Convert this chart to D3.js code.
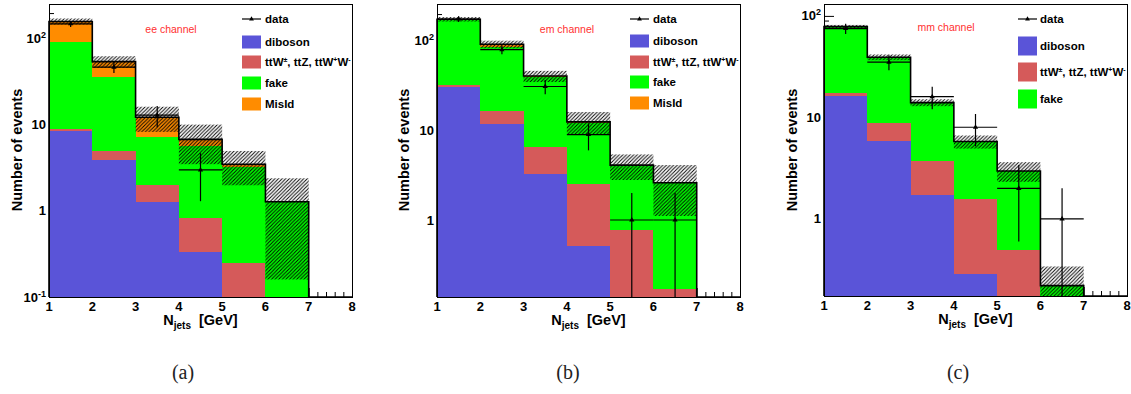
<!DOCTYPE html>
<html><head><meta charset="utf-8">
<script src="https://cdn.jsdelivr.net/npm/d3@7"></script>
<style>
html,body{margin:0;padding:0;background:#fff;}
svg{display:block;}
text{font-family:"Liberation Sans",Arial,sans-serif;}
text.caption{font-family:"Liberation Serif","DejaVu Serif",serif;}
</style></head>
<body>
<svg id="chart" width="1131" height="394"></svg>
<script>
// ---------- data ----------
const binEdges = [1, 2, 3, 4, 5, 6, 7, 8];
const xTickLabels = ["1", "2", "3", "4", "5", "6", "7", "8"];
const seriesNames = ["diboson", "ttV", "fake", "misid"];

// ee channel
const eeDiboson = [8.4, 3.9, 1.26, 0.33, 0, 0, 0];
const eeTTV     = [0.5, 1.1, 0.74, 0.49, 0.25, 0, 0];
const eeFake    = [84, 30.9, 5.3, 4.93, 3.02, 1.28, 0];
const eeMisId   = [67, 18.6, 5.0, 1.05, 0.22, 0, 0];
const eeUnc     = [13, 8.5, 4, 3.3, 1.5, 1.12, 0];
const eeData    = [150, 47, 13, 3, 0, 0, 0];
const eeDataErr = [12.2, 6.9, 3.6, 1.7, 0, 0, 0];

// em channel
const emDiboson = [30.4, 11.8, 3.27, 0.51, 0, 0, 0];
const emTTV     = [1.8, 4.7, 3.32, 2.02, 0.77, 0.17, 0];
const emFake    = [139.8, 69.9, 32.7, 9.47, 3.27, 2.44, 0];
const emMisId   = [3, 5.4, 1.3, 0.5, 0.06, 0, 0];
const emUnc     = [10, 9, 5.8, 3.6, 1.3, 1.5, 0];
const emData    = [176, 80, 31, 9, 1, 1, 0];
const emDataErr = [13.3, 8.9, 5.6, 3, 1, 1, 0];

// mm channel
const mmDiboson = [16.3, 5.87, 1.72, 0.285, 0, 0, 0];
const mmTTV     = [1.0, 2.9, 2.01, 1.275, 0.495, 0, 0];
const mmFake    = [61.2, 30.4, 10.27, 4.22, 2.475, 0.22, 0];
const mmMisId   = [0, 0, 0, 0, 0, 0, 0];
const mmUnc     = [3, 2.5, 1.1, 0.85, 0.65, 0.12, 0];
const mmData    = [75, 35, 16, 8, 2, 1, 0];
const mmDataErr = [8.7, 5.9, 4, 2.8, 1.4, 1, 0];

const channelLabels = ["ee channel", "em channel", "mm channel"];
const captions = ["(a)", "(b)", "(c)"];

// ---------- styling / layout ----------
const colors = {diboson: "#5a54d8", ttV: "#d55a5a", fake: "#00ff00", misid: "#ff8c00"};
const svg = d3.select("#chart");

const defs = svg.append("defs");
defs.append("pattern").attr("id", "hatch").attr("patternUnits", "userSpaceOnUse")
  .attr("width", 3.6).attr("height", 3.6)
  .append("path").attr("d", "M-0.9,0.9 l1.8,-1.8 M0,3.6 l3.6,-3.6 M2.7,4.5 l1.8,-1.8")
  .attr("stroke", "#000").attr("stroke-width", 0.95).attr("fill", "none");

const panels = [
  {left: 49, right: 352, top: 4, bottom: 297, ymin: 0.1, ymax: 255,
   dib: eeDiboson, ttv: eeTTV, fake: eeFake, mis: eeMisId, unc: eeUnc, data: eeData, err: eeDataErr,
   yTicks: [0.1, 1, 10, 100], label: channelLabels[0], labelX: 171, labelY: 33,
   legX: 242, legTextX: 265, legRows: [19, 42, 62, 83, 104], boxH: 13, legMis: true,
   ytitleX: 21.5, caption: captions[0], capX: 183},
  {left: 437, right: 740, top: 4, bottom: 297, ymin: 0.138, ymax: 259,
   dib: emDiboson, ttv: emTTV, fake: emFake, mis: emMisId, unc: emUnc, data: emData, err: emDataErr,
   yTicks: [1, 10, 100], label: channelLabels[1], labelX: 567, labelY: 33,
   legX: 630, legTextX: 653, legRows: [19, 41, 62, 82, 103], boxH: 13, legMis: true,
   ytitleX: 409, caption: captions[1], capX: 568},
  {left: 824, right: 1127, top: 4, bottom: 296, ymin: 0.174, ymax: 131,
   dib: mmDiboson, ttv: mmTTV, fake: mmFake, mis: mmMisId, unc: mmUnc, data: mmData, err: mmDataErr,
   yTicks: [1, 10, 100], label: channelLabels[2], labelX: 946, labelY: 31,
   legX: 1018, legTextX: 1040, legRows: [19, 46, 72, 99], boxH: 19, legMis: false,
   ytitleX: 797, caption: captions[2], capX: 958}
];

panels.forEach(p => {
  const g = svg.append("g");
  const x = d3.scaleLinear().domain([binEdges[0], binEdges[binEdges.length - 1]]).range([p.left, p.right]);
  const y = d3.scaleLog().domain([p.ymin, p.ymax]).range([p.bottom, p.top]);
  const yc = v => y(Math.max(v, p.ymin));
  const H = p.bottom - p.top;

  // axis ticks (drawn first; histograms cover them)
  const minorX = d3.range(binEdges[0], binEdges[binEdges.length - 1] + 0.001, 0.2).filter(v => Math.abs(v - Math.round(v)) > 0.01);
  g.append("g").attr("transform", `translate(0,${p.bottom})`)
    .call(d3.axisBottom(x).tickValues(minorX).tickSize(-5).tickFormat(""))
    .call(a => a.select(".domain").remove())
    .call(a => a.selectAll("line").attr("stroke", "#000"));
  g.append("g").attr("transform", `translate(0,${p.bottom})`)
    .call(d3.axisBottom(x).tickValues(binEdges).tickSize(-9).tickFormat(""))
    .call(a => a.select(".domain").remove())
    .call(a => a.selectAll("line").attr("stroke", "#000"));
  const minorY = y.ticks().filter(v => Math.abs(Math.log10(v) - Math.round(Math.log10(v))) > 1e-6);
  g.append("g").attr("transform", `translate(${p.left},0)`)
    .call(d3.axisLeft(y).tickValues(minorY).tickSize(-5).tickFormat(""))
    .call(a => a.select(".domain").remove())
    .call(a => a.selectAll("line").attr("stroke", "#000"));
  g.append("g").attr("transform", `translate(${p.left},0)`)
    .call(d3.axisLeft(y).tickValues(p.yTicks).tickSize(-10).tickFormat(""))
    .call(a => a.select(".domain").remove())
    .call(a => a.selectAll("line").attr("stroke", "#000"));

  // stacked histogram
  const rows = p.dib.map((d, i) => ({i, diboson: d, ttV: p.ttv[i], fake: p.fake[i], misid: p.mis[i]}));
  const stack = d3.stack().keys(seriesNames)(rows);
  stack.forEach(layer => {
    g.append("g").selectAll("rect").data(layer.filter(d => d[1] - d[0] > 0)).join("rect")
      .attr("x", d => x(binEdges[d.data.i]))
      .attr("width", d => x(binEdges[d.data.i + 1]) - x(binEdges[d.data.i]))
      .attr("y", d => yc(d[1]))
      .attr("height", d => yc(d[0]) - yc(d[1]))
      .attr("fill", colors[layer.key])
      .attr("shape-rendering", "crispEdges");
  });

  const totals = rows.map(r => r.diboson + r.ttV + r.fake + r.misid);

  // uncertainty band
  g.append("g").selectAll("rect").data(totals.map((t, i) => ({t, i})).filter(d => d.t > 0)).join("rect")
    .attr("x", d => x(binEdges[d.i]))
    .attr("width", d => x(binEdges[d.i + 1]) - x(binEdges[d.i]))
    .attr("y", d => yc(d.t + p.unc[d.i]))
    .attr("height", d => yc(d.t - p.unc[d.i]) - yc(d.t + p.unc[d.i]))
    .attr("fill", "url(#hatch)");

  // total outline
  const stepPts = binEdges.map((e, i) => [e, i < totals.length ? totals[i] : totals[totals.length - 1]]);
  g.append("path")
    .attr("d", d3.line().curve(d3.curveStepAfter).x(d => x(d[0])).y(d => yc(d[1]))([[binEdges[0], p.ymin], ...stepPts]))
    .attr("fill", "none").attr("stroke", "#000").attr("stroke-width", 1.6);

  // data
  const pts = p.data.map((v, i) => ({v, e: p.err[i], i})).filter(d => d.v > 0);
  const dg = g.append("g").attr("stroke", "#000").attr("stroke-width", 1.2);
  dg.selectAll("line.h").data(pts).join("line").attr("class", "h")
    .attr("x1", d => x(binEdges[d.i])).attr("x2", d => x(binEdges[d.i + 1]))
    .attr("y1", d => y(d.v)).attr("y2", d => y(d.v));
  dg.selectAll("line.v").data(pts).join("line").attr("class", "v")
    .attr("x1", d => x((binEdges[d.i] + binEdges[d.i + 1]) / 2)).attr("x2", d => x((binEdges[d.i] + binEdges[d.i + 1]) / 2))
    .attr("y1", d => yc(d.v - d.e)).attr("y2", d => yc(d.v + d.e));
  g.append("g").selectAll("path").data(pts).join("path")
    .attr("d", d3.symbol(d3.symbolTriangle, 12))
    .attr("transform", d => `translate(${x((binEdges[d.i] + binEdges[d.i + 1]) / 2)},${y(d.v)})`)
    .attr("fill", "#000");

  // frame
  g.append("rect").attr("x", p.left).attr("y", p.top).attr("width", p.right - p.left).attr("height", H)
    .attr("fill", "none").attr("stroke", "#000").attr("stroke-width", 1).attr("shape-rendering", "crispEdges");

  // tick labels
  g.append("g").selectAll("text").data(binEdges).join("text")
    .attr("x", d => x(d)).attr("y", p.bottom + 14)
    .attr("text-anchor", "middle").attr("font-size", 13).attr("font-weight", "bold")
    .text((d, i) => xTickLabels[i]);
  p.yTicks.forEach(v => {
    const t = g.append("text").attr("x", p.left - 3).attr("y", y(v) + 4.5)
      .attr("text-anchor", "end").attr("font-size", 13).attr("font-weight", "bold");
    const ex = Math.round(Math.log10(v));
    if (ex === 0) t.text("1");
    else if (ex === 1) t.text("10");
    else {
      t.append("tspan").text("10");
      t.append("tspan").attr("font-size", 9).attr("dy", -5).text(String(ex));
    }
  });

  // axis titles
  const xt = g.append("text").attr("x", (p.left + p.right) / 2).attr("y", p.bottom + 28)
    .attr("text-anchor", "middle").attr("font-weight", "bold").attr("font-size", 14.5);
  xt.append("tspan").text("N");
  xt.append("tspan").attr("font-size", 10).attr("dy", 4).text("jets");
  xt.append("tspan").attr("dy", -4).attr("dx", 8).text("[GeV]");

  g.append("text").attr("transform", `translate(${p.ytitleX},150) rotate(-90)`)
    .attr("text-anchor", "middle").attr("font-weight", "bold").attr("font-size", 14.5)
    .text("Number of events");

  // channel label
  g.append("text").attr("x", p.labelX).attr("y", p.labelY).attr("text-anchor", "middle")
    .attr("font-size", 10.5).attr("fill", "#ff3030").text(p.label);

  // legend
  const lw = 19;
  const r = p.legRows;
  g.append("line").attr("x1", p.legX).attr("x2", p.legX + lw).attr("y1", r[0]).attr("y2", r[0])
    .attr("stroke", "#000").attr("stroke-width", 1.2);
  g.append("path").attr("d", d3.symbol(d3.symbolTriangle, 10))
    .attr("transform", `translate(${p.legX + lw / 2},${r[0]})`).attr("fill", "#000");
  const legItems = [
    {key: "diboson", label: ["diboson"]},
    {key: "ttV", label: null},
    {key: "fake", label: ["fake"]}
  ];
  if (p.legMis) legItems.push({key: "misid", label: ["MisId"]});
  const txt = (yy) => g.append("text").attr("x", p.legTextX).attr("y", yy + 4)
    .attr("font-size", 11.5).attr("font-weight", "bold");
  txt(r[0]).text("data");
  legItems.forEach((it, k) => {
    const yy = r[k + 1];
    g.append("rect").attr("x", p.legX).attr("y", yy - p.boxH / 2).attr("width", lw).attr("height", p.boxH)
      .attr("fill", colors[it.key]);
    const t = txt(yy);
    if (it.key === "ttV") {
      t.append("tspan").text("ttW");
      t.append("tspan").attr("font-size", 7).attr("dy", -4).text("±");
      t.append("tspan").attr("dy", 4).text(", ttZ, ttW");
      t.append("tspan").attr("font-size", 7).attr("dy", -4).text("+");
      t.append("tspan").attr("dy", 4).text("W");
      t.append("tspan").attr("font-size", 7).attr("dy", -4).text("-");
    } else if (it.key === "misid") {
      t.text("MisId");
    } else t.text(it.label[0]);
  });

  // caption
  svg.append("text").attr("class", "caption").attr("x", p.capX).attr("y", 379).attr("text-anchor", "middle")
    .attr("font-size", 20).attr("fill", "#222").text(p.caption);
});
</script>
</body></html>
